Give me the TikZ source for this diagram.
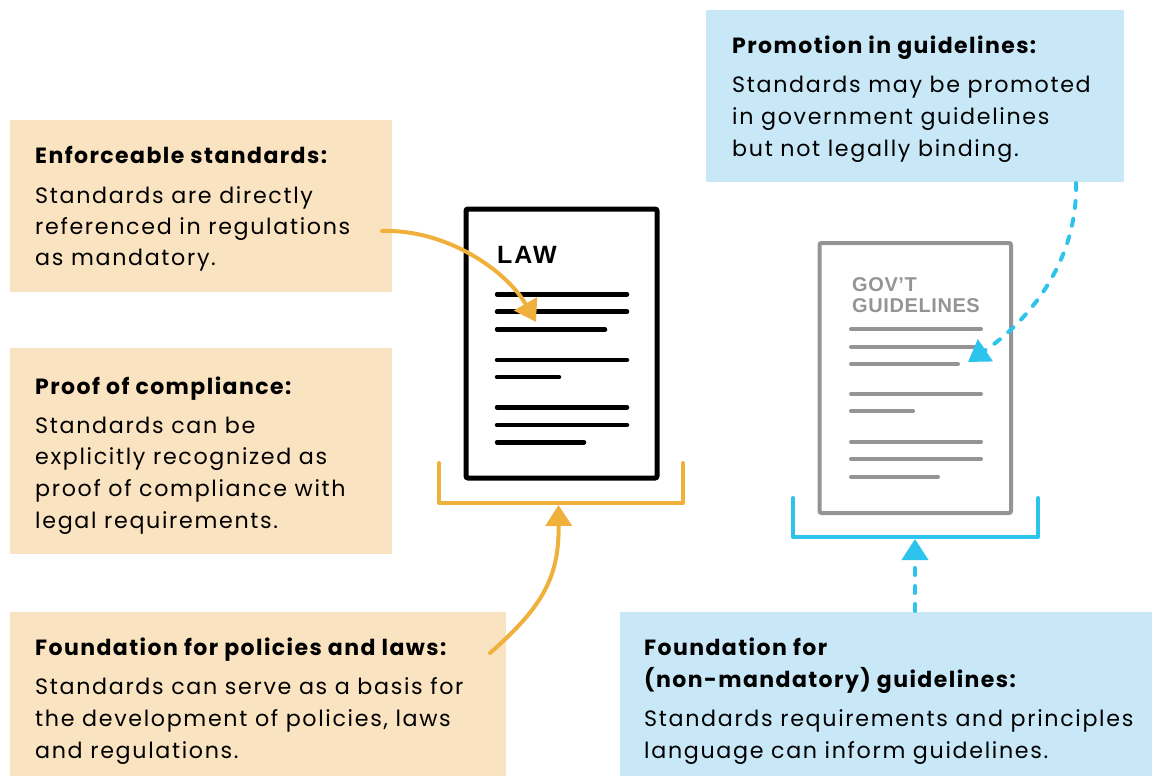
\documentclass[tikz,border=0pt]{standalone}
\usepackage{fontspec}
\setmainfont{Poppins}[LetterSpace=7.5,BoldFeatures={LetterSpace=6.5}]
\newfontfamily\lawfont{Liberation Sans}[LetterSpace=8.0]
\newfontfamily\govfont{Liberation Sans}[LetterSpace=3.0]
\usetikzlibrary{arrows.meta}
\definecolor{peach}{HTML}{FAE3C0}
\definecolor{sky}{HTML}{C8E8F7}
\definecolor{amber}{HTML}{F0B03C}
\definecolor{cyanline}{HTML}{2CC3EC}
\definecolor{docgray}{HTML}{949494}
\begin{document}
\begin{tikzpicture}[x=1pt,y=-1pt,
  panel/.style={inner sep=0pt,outer sep=0pt,anchor=north west},
  ttl/.style={anchor=base west,inner sep=0pt,font=\fontsize{22}{22}\selectfont\bfseries},
  txt/.style={anchor=base west,inner sep=0pt,font=\fontsize{22.2}{22}\selectfont},
  docline/.style={line width=4.5pt,line cap=round},
  grayline/.style={line width=4pt,line cap=round,docgray},
  bracket/.style={line width=4pt,line cap=round,line join=round},
  tip/.style={-{Triangle[length=21pt,width=26pt]}},
  amberarrow/.style={tip,amber,line width=4pt,line cap=round},
  cyanarrow/.style={tip,cyanline,line width=4pt,line cap=round,dash pattern=on 7pt off 11pt}]
\useasboundingbox (0,0) rectangle (1152,776);

% ---- text panels ----
\node[panel,fill=peach,minimum width=382pt,minimum height=172pt] (enf) at (10,120) {};
\node[panel,fill=peach,minimum width=382pt,minimum height=206pt] (proof) at (10,348) {};
\node[panel,fill=peach,minimum width=496pt,minimum height=164pt] (fpol) at (10,612) {};
\node[panel,fill=sky,minimum width=418pt,minimum height=171.5pt] (promo) at (706,10) {};
\node[panel,fill=sky,minimum width=532pt,minimum height=164pt] (fnm) at (620,612) {};

\node[ttl] (enf-t) at (35,163) {Enforceable standards:};
\node[txt] (enf-1) at (35,203) {Standards are directly};
\node[txt] (enf-2) at (35,234) {referenced in regulations};
\node[txt] (enf-3) at (35,265) {as mandatory.};

\node[ttl] (proof-t) at (35,394) {Proof of compliance:};
\node[txt] (proof-1) at (35,433.3) {Standards can be};
\node[txt] (proof-2) at (35,464.7) {explicitly recognized as};
\node[txt] (proof-3) at (35,496) {proof of compliance with};
\node[txt] (proof-4) at (35,528) {legal requirements.};

\node[ttl] (fpol-t) at (35,655) {Foundation for policies and laws:};
\node[txt] (fpol-1) at (35,694.3) {Standards can serve as a basis for};
\node[txt] (fpol-2) at (35,726.7) {the development of policies, laws};
\node[txt] (fpol-3) at (35,758.3) {and regulations.};

\node[ttl] (promo-t) at (732,53.3) {Promotion in guidelines:};
\node[txt] (promo-1) at (732,92.7) {Standards may be promoted};
\node[txt] (promo-2) at (732,124.3) {in government guidelines};
\node[txt] (promo-3) at (732,156.7) {but not legally binding.};

\node[ttl] (fnm-t1) at (644,655) {Foundation for};
\node[ttl] (fnm-t2) at (644,687.3) {(non-mandatory) guidelines:};
\node[txt] (fnm-1) at (644,726.7) {Standards requirements and principles};
\node[txt] (fnm-2) at (644,758.3) {language can inform guidelines.};

% ---- law document ----
\node[draw=black,line width=5pt,rounded corners=2pt,inner sep=0pt,outer sep=0pt,
      minimum width=191pt,minimum height=269pt,anchor=north west] (law) at (466,209) {};
\node[anchor=base west,inner sep=0pt,font=\lawfont\fontsize{25}{25}\selectfont\bfseries] (lawlbl) at (497,263) {LAW};
\draw[docline] (497,294.3) -- (627,294.3);
\draw[docline] (497,311.7) -- (627,311.7);
\draw[docline] (497,329.3) -- (605,329.3);
\draw[docline] (497,360) -- (627,360);
\draw[docline] (497,377) -- (559,377);
\draw[docline] (497,407.3) -- (627,407.3);
\draw[docline] (497,425) -- (627,425);
\draw[docline] (497,442.3) -- (584,442.3);
\draw[bracket,amber] (439,463) -- (439,503) -- (683,503) -- (683,463);

% ---- guidelines document ----
\node[draw=docgray,line width=4pt,rounded corners=2pt,inner sep=0pt,outer sep=0pt,
      minimum width=191.5pt,minimum height=270pt,anchor=north west] (gov) at (819.5,243) {};
\node[anchor=base west,inner sep=0pt,text=docgray,
      font=\govfont\fontsize{20}{21}\selectfont\bfseries] (govlbl1) at (852,291.7) {GOV’T};
\node[anchor=base west,inner sep=0pt,text=docgray,
      font=\govfont\fontsize{20}{21}\selectfont\bfseries] (govlbl2) at (852,312.7) {GUIDELINES};
\draw[grayline] (851,329.3) -- (981,329.3);
\draw[grayline] (851,346.7) -- (981,346.7);
\draw[grayline] (851,364) -- (958,364);
\draw[grayline] (851,394) -- (981,394);
\draw[grayline] (851,411.3) -- (913,411.3);
\draw[grayline] (851,441.7) -- (981,441.7);
\draw[grayline] (851,459.3) -- (981,459.3);
\draw[grayline] (851,476.7) -- (938,476.7);
\draw[bracket,cyanline] (793,498) -- (793,537) -- (1038,537) -- (1038,498);

% ---- connectors ----
\coordinate (enf-out) at (382,231);
\coordinate (law-in) at (536,322);
\coordinate (fpol-out) at (490,653);
\coordinate (law-base) at (558.5,505);
\coordinate (promo-out) at (1076,183);
\coordinate (gov-in) at (968,362);
\coordinate (fnm-out) at (915,611);
\coordinate (gov-base) at (915,539);

\draw[amberarrow] (enf-out) .. controls (446,229) and (506,270) .. (law-in);
\draw[amberarrow] (fpol-out) .. controls (545,605) and (559,575) .. (law-base);
\draw[cyanarrow] (promo-out) .. controls (1078,260) and (1030,320) .. (gov-in);
\draw[cyanarrow] (fnm-out) -- (gov-base);
\end{tikzpicture}
\end{document}
